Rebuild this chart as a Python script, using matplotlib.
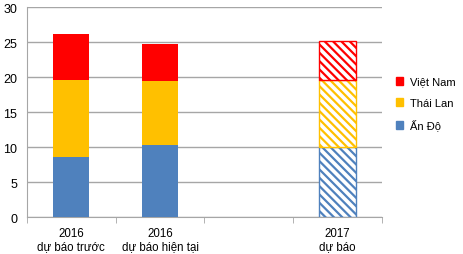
import matplotlib
matplotlib.use("Agg")
import matplotlib.pyplot as plt
from matplotlib.patches import Patch
import numpy as np

plt.rcParams['font.family'] = ['Liberation Sans', 'DejaVu Sans']
plt.rcParams['hatch.linewidth'] = 1.6

# données
categories = ["2016\ndự báo trước", "2016\ndự báo hiện tại", "", "2017\ndự báo"]
an_do = [8.6, 10.3, 0, 10.0]
thai_lan = [10.95, 9.1, 0, 9.55]
viet_nam = [6.65, 5.4, 0, 5.7]
hatched = [False, False, False, True]

series = [("Ấn Độ", an_do, "#4F81BD"),
          ("Thái Lan", thai_lan, "#FFC000"),
          ("Việt Nam", viet_nam, "#FF0000")]

fig = plt.figure(figsize=(4.63, 2.55), dpi=100)
ax = fig.add_axes([0.058, 0.145, 0.767, 0.822])

x = np.arange(len(categories))
bottom = np.zeros(len(categories))
for name, vals, col in series:
    for i in range(len(categories)):
        if vals[i] == 0:
            continue
        if hatched[i]:
            ax.bar(x[i], vals[i], 0.41, bottom=bottom[i], facecolor="white",
                   edgecolor=col, hatch="\\\\\\\\", linewidth=1.0, zorder=3)
        else:
            ax.bar(x[i], vals[i], 0.41, bottom=bottom[i], color=col, zorder=3)
    bottom += np.array(vals)

ax.set_xlim(-0.5, len(categories) - 0.5)
ax.set_ylim(0, 30)
ax.set_yticks(range(0, 31, 5))
ax.yaxis.grid(True, color="#A6A6A6", linewidth=1.0, zorder=0)
ax.set_xticks(x)
ax.set_xticklabels(categories, fontsize=8.3, linespacing=1.1)
ax.set_xticks(np.arange(-0.5, len(categories), 1), minor=True)
ax.tick_params(axis="x", which="major", length=0, pad=7)
ax.tick_params(axis="x", which="minor", length=4, color="#A6A6A6")
ax.tick_params(axis="y", length=0, labelsize=9, pad=7)
for s in ["top", "right"]:
    ax.spines[s].set_visible(False)
ax.spines["left"].set_color("#A6A6A6")
ax.spines["bottom"].set_color("#A6A6A6")

handles = [Patch(color=c, label=n) for n, v, c in reversed(series)]
fig.legend(handles=handles, loc="center left", bbox_to_anchor=(0.84, 0.59),
           frameon=False, fontsize=8, handlelength=0.7, handleheight=0.7,
           labelspacing=1.0, handletextpad=0.6, borderaxespad=0.2)

fig.savefig("out.png", dpi=100)
